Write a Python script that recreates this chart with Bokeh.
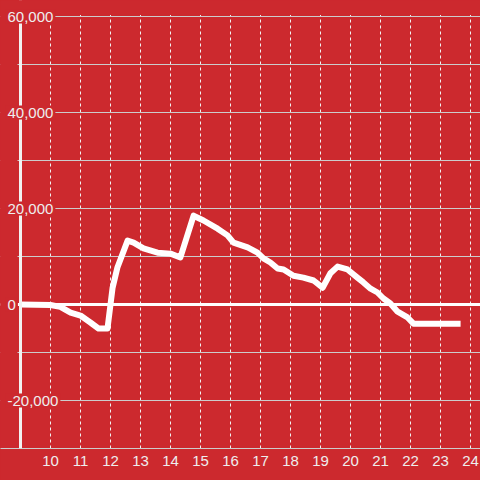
from bokeh.plotting import figure
from bokeh.models import FixedTicker, Span, BoxAnnotation, Range1d
from bokeh.core.properties import value
from bokeh.embed import file_html
from bokeh.resources import INLINE

# ---- data ----
HOURS = [9.0, 10.0, 10.33, 10.67, 11.0, 11.33, 11.6, 11.9, 12.07, 12.23, 12.57,
         12.77, 13.1, 13.57, 14.0, 14.33, 14.77, 15.1, 15.57, 15.9, 16.1, 16.57,
         16.9, 17.1, 17.33, 17.57, 17.77, 18.1, 18.43, 18.77, 19.07, 19.33,
         19.57, 19.9, 20.23, 20.43, 20.67, 20.9, 21.1, 21.33, 21.57, 21.9,
         22.1, 23.67]
VALUES = [0, -100, -500, -1700, -2300, -3750, -5000, -5000, 3500, 7700, 13300,
          12900, 11700, 10800, 10600, 9800, 18500, 17500, 15800, 14400, 12900,
          11900, 10800, 9600, 8750, 7500, 7300, 6000, 5600, 5000, 3500, 6500,
          7900, 7300, 5600, 4600, 3300, 2500, 1250, 200, -1500, -2700,
          -4000, -4000]
X_TICKS = [10, 11, 12, 13, 14, 15, 16, 17, 18, 19, 20, 21, 22, 23, 24]
Y_TICKS = [-20000, 0, 20000, 40000, 60000]
Y_LABELS = ["-20,000", "0", "20,000", "40,000", "60,000"]
Y_GRID = [-30000, -20000, -10000, 0, 10000, 20000, 30000, 40000, 50000, 60000]

RED = "#cc292e"
LABEL = "#eeeeee"
FONT = "Liberation Sans"

PX_PER_HOUR = 30.0
PX_PER_UNIT = 96.0 / 20000.0
AXIS_X = 9.0
X_START = AXIS_X - 20 / PX_PER_HOUR
X_END = X_START + 480 / PX_PER_HOUR
Y_START = -30000
Y_END = 60000 + 16 / PX_PER_UNIT

p = figure(width=480, height=480, output_backend="svg", toolbar_location=None,
           x_range=Range1d(X_START, X_END), y_range=Range1d(Y_START, Y_END),
           y_axis_location=None,
           min_border_left=0, min_border_right=0, min_border_top=0,
           min_border_bottom=32)
p.background_fill_color = RED
p.border_fill_color = RED
p.outline_line_color = None

# x axis
p.xaxis.ticker = FixedTicker(ticks=X_TICKS)
p.xaxis.major_tick_line_color = None
p.xaxis.minor_tick_line_color = None
p.xaxis.axis_line_color = "#cccccc"
p.xaxis.axis_line_width = 1
p.xaxis.major_label_text_font = FONT
p.xaxis.major_label_text_font_size = "15px"
p.xaxis.major_label_text_color = LABEL
p.xaxis.major_label_standoff = 1

# grids
p.xgrid.ticker = FixedTicker(ticks=X_TICKS)
p.xgrid.grid_line_color = "#f2f2f2"
p.xgrid.grid_line_dash = "3 3"
p.xgrid.grid_line_width = 1
p.ygrid.ticker = FixedTicker(ticks=Y_GRID)
p.ygrid.grid_line_color = "#cccccc"
p.ygrid.grid_line_width = 1

# zero line
p.add_layout(Span(location=0, dimension="width", line_color="white",
                  line_width=3, level="underlay"))
# hide grid and zero line left of the axis line
p.add_layout(BoxAnnotation(left=X_START - 1, right=AXIS_X - 0.1, fill_color=RED,
                           fill_alpha=1, line_color=None, level="underlay"))
# vertical axis line
p.add_layout(Span(location=AXIS_X, dimension="height", line_color="#f2f2f2",
                  line_width=3))
# hide anything above the top gridline
p.add_layout(BoxAnnotation(bottom=60300, top=Y_END + 10000, fill_color=RED,
                           fill_alpha=1, line_color=None, level="annotation"))

# data line
p.line(HOURS, VALUES, line_color="white", line_width=6, line_join="round")

# y tick labels (left aligned, over the axis line)
p.text(x=AXIS_X, y=Y_TICKS, text=Y_LABELS, x_offset=-15,
       text_font=value(FONT), text_font_size="15px", text_color=LABEL,
       text_align="left", text_baseline="middle",
       background_fill_color=RED, padding=2, level="overlay")

html = file_html(p, INLINE)
html = html.replace("</head>", "<style>html,body{background:%s;}</style></head>" % RED, 1)
open("out.html", "w").write(html)
